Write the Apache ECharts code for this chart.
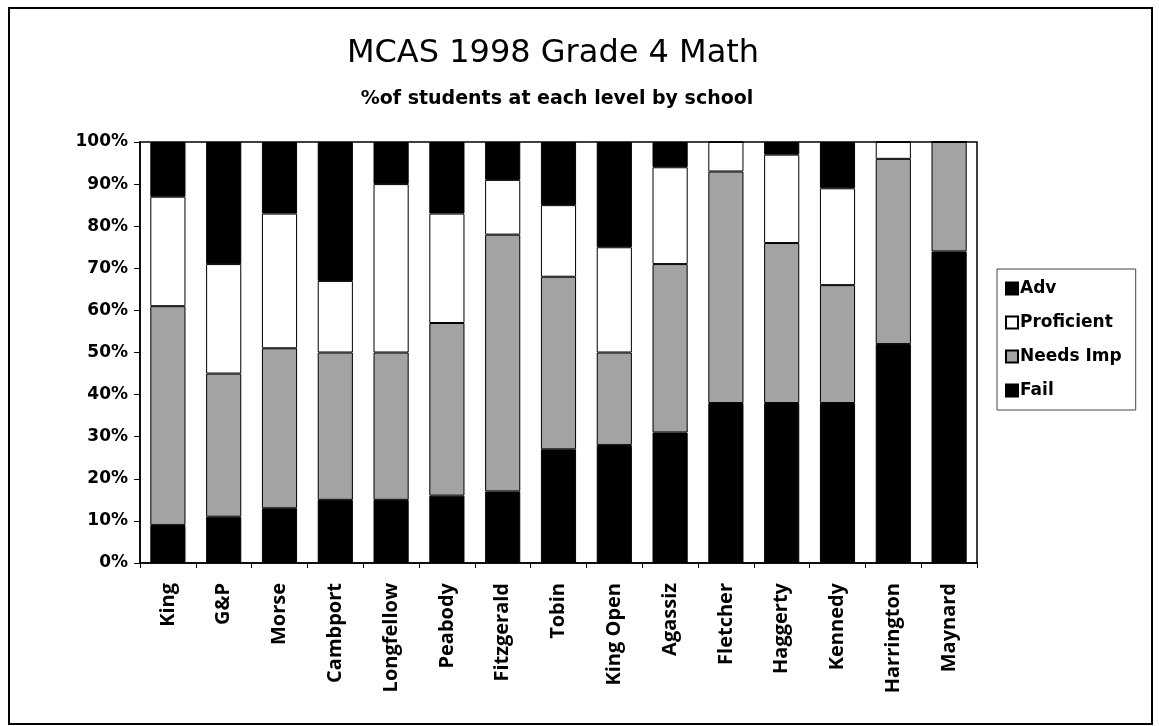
<!DOCTYPE html>
<html>
<head>
<meta charset="utf-8">
<title>MCAS 1998 Grade 4 Math</title>
<script src="https://cdn.jsdelivr.net/npm/echarts@6/dist/echarts.min.js"></script>
<style>
  html, body { margin: 0; padding: 0; background: #fff; }
  #chart { width: 1159px; height: 726px; }
</style>
</head>
<body>
<div id="chart"></div>
<script>
  // schools, left to right
  const schools = ['King', 'G&P', 'Morse', 'Cambport', 'Longfellow', 'Peabody', 'Fitzgerald', 'Tobin',
    'King Open', 'Agassiz', 'Fletcher', 'Haggerty', 'Kennedy', 'Harrington', 'Maynard'];
  // % of students at each level (stacked bottom to top: fail, needs imp, proficient, adv)
  const failData = [9, 11, 13, 15, 15, 16, 17, 27, 28, 31, 38, 38, 38, 52, 74];
  const needsData = [52, 34, 38, 35, 35, 41, 61, 41, 22, 40, 55, 38, 28, 44, 26];
  const profData = [26, 26, 32, 17, 40, 26, 13, 17, 25, 23, 7, 21, 23, 4, 0];
  const advData = [13, 29, 17, 33, 10, 17, 9, 15, 25, 6, 0, 3, 11, 0, 0];

  const chart = echarts.init(document.getElementById('chart'));
  const barStyle = function (color) {
    return { color: color, borderColor: '#000', borderWidth: 1 };
  };

  const option = {
    backgroundColor: '#fff',
    animation: false,
    title: [
      {
        text: 'MCAS 1998 Grade 4 Math',
        left: 548,
        top: 33,
        textAlign: 'center',
        textStyle: { fontFamily: 'DejaVu Sans', fontSize: 32, fontWeight: 'normal', color: '#000' }
      },
      {
        text: '%of students at each level by school',
        left: 552,
        top: 85,
        textAlign: 'center',
        textStyle: { fontFamily: 'DejaVu Sans', fontSize: 19, fontWeight: 'bold', color: '#000' }
      }
    ],
    legend: {
      orient: 'vertical',
      left: 997,
      top: 269,
      data: ['Adv', 'Proficient', 'Needs Imp', 'Fail'],
      icon: 'rect',
      itemWidth: 12,
      itemHeight: 12,
      itemGap: 17,
      padding: [11, 14, 11, 8],
      borderColor: '#444',
      borderWidth: 1,
      textStyle: { fontFamily: 'DejaVu Sans', fontSize: 17, fontWeight: 'bold', color: '#000', padding: [0, 0, 0, -3] }
    },
    grid: {
      left: 140,
      right: 182,
      top: 142,
      bottom: 163,
      show: true,
      borderColor: '#000',
      borderWidth: 1.5,
      backgroundColor: '#fff'
    },
    xAxis: {
      type: 'category',
      data: schools,
      axisLine: { lineStyle: { color: '#000', width: 1.5 } },
      axisTick: { show: true, length: 5, lineStyle: { color: '#000' } },
      axisLabel: {
        rotate: 90,
        margin: 20,
        color: '#000',
        fontFamily: 'Open Sans',
        fontWeight: 'bold',
        fontSize: 20
      }
    },
    yAxis: {
      type: 'value',
      min: 0,
      max: 100,
      interval: 10,
      splitLine: { show: false },
      axisLine: { show: true, lineStyle: { color: '#000', width: 1.5 } },
      axisTick: { show: true, length: 6, lineStyle: { color: '#000' } },
      axisLabel: {
        formatter: '{value}%',
        margin: 12,
        color: '#000',
        fontFamily: 'DejaVu Sans',
        fontWeight: 'bold',
        fontSize: 17
      }
    },
    series: [
      { name: 'Fail', type: 'bar', stack: 'lvl', data: failData, barCategoryGap: '37%', itemStyle: barStyle('#000') },
      { name: 'Needs Imp', type: 'bar', stack: 'lvl', data: needsData, itemStyle: barStyle('#a3a3a3') },
      { name: 'Proficient', type: 'bar', stack: 'lvl', data: profData, itemStyle: barStyle('#fff') },
      { name: 'Adv', type: 'bar', stack: 'lvl', data: advData, itemStyle: barStyle('#000') }
    ],
    graphic: [
      {
        type: 'rect',
        silent: true,
        shape: { x: 9, y: 8, width: 1143, height: 716 },
        style: { fill: 'none', stroke: '#000', lineWidth: 2 }
      }
    ]
  };

  chart.setOption(option);
  window.addEventListener('resize', function () {
    chart.resize();
  });
</script>
</body>
</html>
